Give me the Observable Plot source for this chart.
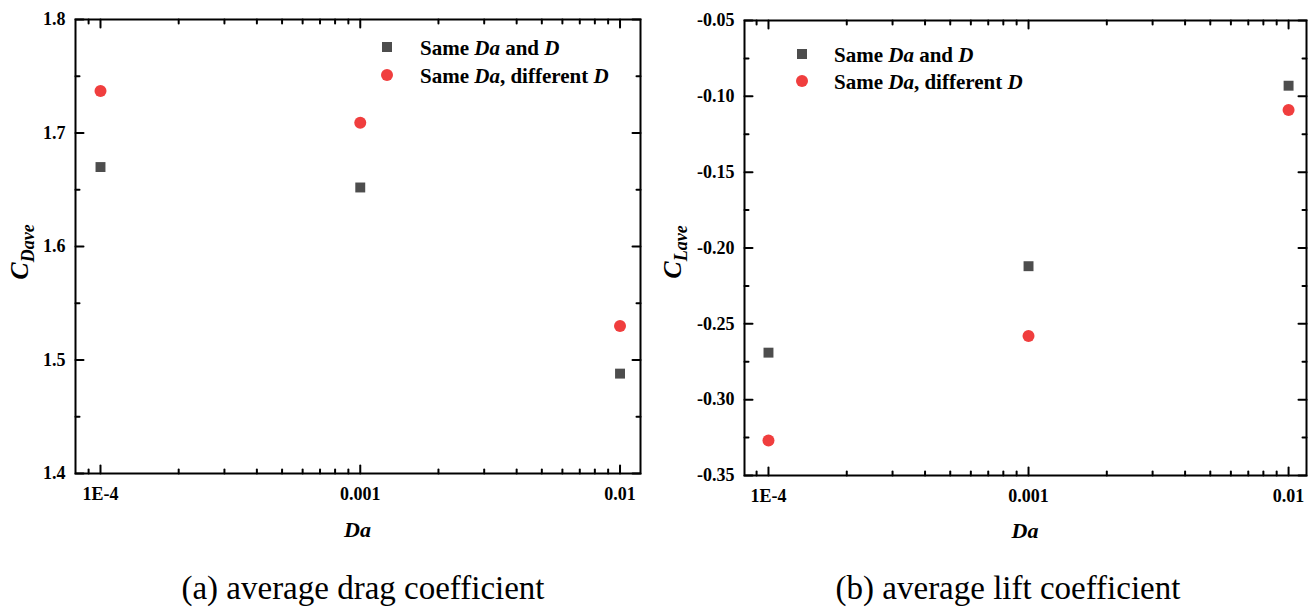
<!DOCTYPE html>
<html><head><meta charset="utf-8">
<script src="https://cdn.jsdelivr.net/npm/d3@7"></script>
<script src="https://cdn.jsdelivr.net/npm/@observablehq/plot@0.6"></script>
<style>
body{margin:0;background:#fff;}
#wrap{position:relative;width:1314px;height:611px;font-family:"Liberation Serif","Times New Roman",serif;overflow:hidden;}
.panel{position:absolute;top:0;width:657px;}
.cap{position:absolute;top:572px;font-size:33px;line-height:33px;white-space:nowrap;transform:translateX(-50%);color:#000;}
</style></head><body>
<div id="wrap">
  <div class="panel" id="pa" style="left:0"></div>
  <div class="panel" id="pb" style="left:657px"></div>
  <div class="cap" style="left:363px">(a) average drag coefficient</div>
  <div class="cap" style="left:1008px">(b) average lift coefficient</div>
</div>
<script>
// ---- data ----
const daValues = [1e-4, 1e-3, 1e-2];
const seriesNames = ["Same Da and D", "Same Da, different D"];
const dragSame = [1.670, 1.652, 1.488];
const dragDiff = [1.737, 1.709, 1.530];
const liftSame = [-0.269, -0.212, -0.093];
const liftDiff = [-0.327, -0.258, -0.109];

// ---- ticks ----
const xMajorTicks = [1e-4, 1e-3, 1e-2];
const xTickLabels = ["1E-4", "0.001", "0.01"];
const xMinorTicks = [9e-5, 2e-4, 3e-4, 4e-4, 5e-4, 6e-4, 7e-4, 8e-4, 9e-4,
                     2e-3, 3e-3, 4e-3, 5e-3, 6e-3, 7e-3, 8e-3, 9e-3];
const dragMajorTicks = [1.4, 1.5, 1.6, 1.7, 1.8];
const dragMinorTicks = [1.45, 1.55, 1.65, 1.75];
const liftMajorTicks = [-0.35, -0.30, -0.25, -0.20, -0.15, -0.10, -0.05];
const liftMinorTicks = [-0.325, -0.275, -0.225, -0.175, -0.125, -0.075];

// legend text parts: [text, italic]
const legendParts = [
  [["Same ", false], ["Da", true], [" and ", false], ["D", true]],
  [["Same ", false], ["Da", true], [", different ", false], ["D", true]]
];

const squareColor = "#4d4d4d";
const circleColor = "#f03e3e";
const FONT = "Liberation Serif, Times New Roman, serif";

const xLabelMap = new Map(xMajorTicks.map((d, i) => [d, xTickLabels[i]]));
const tickShape = {draw(ctx, l) { ctx.moveTo(0, 0); ctx.lineTo(0, -l); }};

function tickMarks(xMaj, xMin, yMaj, yMin) {
  const common = {stroke: "black", strokeWidth: 2, shape: tickShape, anchor: "start"};
  const marks = [];
  for (const [vals, len] of [[xMaj, 8], [xMin, 4]]) {
    marks.push(Plot.vector(vals, {...common, x: d => d, frameAnchor: "bottom", rotate: 0, length: len}));
    marks.push(Plot.vector(vals, {...common, x: d => d, frameAnchor: "top", rotate: 180, length: len}));
  }
  for (const [vals, len] of [[yMaj, 8], [yMin, 4]]) {
    marks.push(Plot.vector(vals, {...common, y: d => d, frameAnchor: "left", rotate: 90, length: len}));
    marks.push(Plot.vector(vals, {...common, y: d => d, frameAnchor: "right", rotate: -90, length: len}));
  }
  return marks;
}

function makePanel(cfg) {
  const same = daValues.map((d, i) => ({da: d, v: cfg.same[i], series: seriesNames[0]}));
  const diff = daValues.map((d, i) => ({da: d, v: cfg.diff[i], series: seriesNames[1]}));
  const plot = Plot.plot({
    width: 657, height: 545,
    marginLeft: cfg.ml, marginRight: cfg.mr, marginTop: cfg.mt, marginBottom: cfg.mb,
    style: {fontFamily: FONT, fontSize: "18px", fontWeight: "bold", color: "black", background: "white", overflow: "visible"},
    x: {type: "log", domain: cfg.xDomain, axis: null},
    y: {domain: cfg.yDomain, axis: null},
    marks: [
      Plot.frame({stroke: "black", strokeWidth: 2}),
      ...tickMarks(xMajorTicks, xMinorTicks, cfg.yMaj, cfg.yMin),
      Plot.axisX(xMajorTicks, {anchor: "bottom", tickSize: 0, tickPadding: 14, label: null,
        tickFormat: d => xLabelMap.get(d), fontSize: 18, fontWeight: "bold", fontFamily: FONT}),
      Plot.axisY(cfg.yMaj, {anchor: "left", tickSize: 0, tickPadding: 10, label: null,
        tickFormat: d => d.toFixed(cfg.digits), fontSize: 18, fontWeight: "bold", fontFamily: FONT}),
      Plot.dot(same, {x: "da", y: "v", symbol: "square", r: 5.6, fill: squareColor, stroke: null}),
      Plot.dot(diff, {x: "da", y: "v", symbol: "circle", r: 6, fill: circleColor, stroke: null})
    ]
  });
  const svg = d3.select(plot);
  // y-axis title
  const yt = svg.append("text")
    .attr("transform", `translate(${cfg.ylx},${cfg.yly}) rotate(-90)`)
    .attr("text-anchor", "middle").attr("font-family", FONT)
    .attr("font-weight", "bold").attr("font-style", "italic").attr("font-size", 26)
    .attr("fill", "black");
  yt.append("tspan").text("C");
  yt.append("tspan").attr("font-size", 18).attr("dy", 6).text(cfg.sub);
  // x-axis title
  svg.append("text")
    .attr("x", (cfg.ml + 657 - cfg.mr) / 2).attr("y", cfg.xly)
    .attr("text-anchor", "middle").attr("font-family", FONT)
    .attr("font-weight", "bold").attr("font-style", "italic").attr("font-size", 22)
    .attr("fill", "black").text("Da");
  // legend
  const g = svg.append("g").attr("font-family", FONT).attr("font-weight", "bold").attr("font-size", 21)
    .attr("text-anchor", "start");
  g.append("rect").attr("x", cfg.lgx - 5).attr("y", cfg.lgy[0] - 5).attr("width", 10).attr("height", 10).attr("fill", squareColor);
  g.append("circle").attr("cx", cfg.lgx).attr("cy", cfg.lgy[1]).attr("r", 6).attr("fill", circleColor);
  legendParts.forEach((parts, i) => {
    const t = g.append("text").attr("x", cfg.ltx).attr("y", cfg.lgy[i] + 8).attr("fill", "black")
      .attr("text-anchor", "start").style("white-space", "pre");
    parts.forEach(([s, it]) => {
      const sp = t.append("tspan").text(s);
      if (it) sp.attr("font-style", "italic");
    });
  });
  return plot;
}

document.getElementById("pa").appendChild(makePanel({
  same: dragSame, diff: dragDiff,
  ml: 75, mr: 17, mt: 19, mb: 72,
  xDomain: [8.013e-5, 0.01199], yDomain: [1.4, 1.8],
  yMaj: dragMajorTicks, yMin: dragMinorTicks, digits: 1,
  ylx: 28, yly: 252, sub: "Dave", xly: 537,
  lgx: 387, lgy: [47, 75], ltx: 420
}));
document.getElementById("pb").appendChild(makePanel({
  same: liftSame, diff: liftDiff,
  ml: 87, mr: 8, mt: 20, mb: 70,
  xDomain: [8.087e-5, 0.01172], yDomain: [-0.35, -0.05],
  yMaj: liftMajorTicks, yMin: liftMinorTicks, digits: 2,
  ylx: 24, yly: 252, sub: "Lave", xly: 538,
  lgx: 145, lgy: [54, 81], ltx: 177
}));
</script>
</body></html>
